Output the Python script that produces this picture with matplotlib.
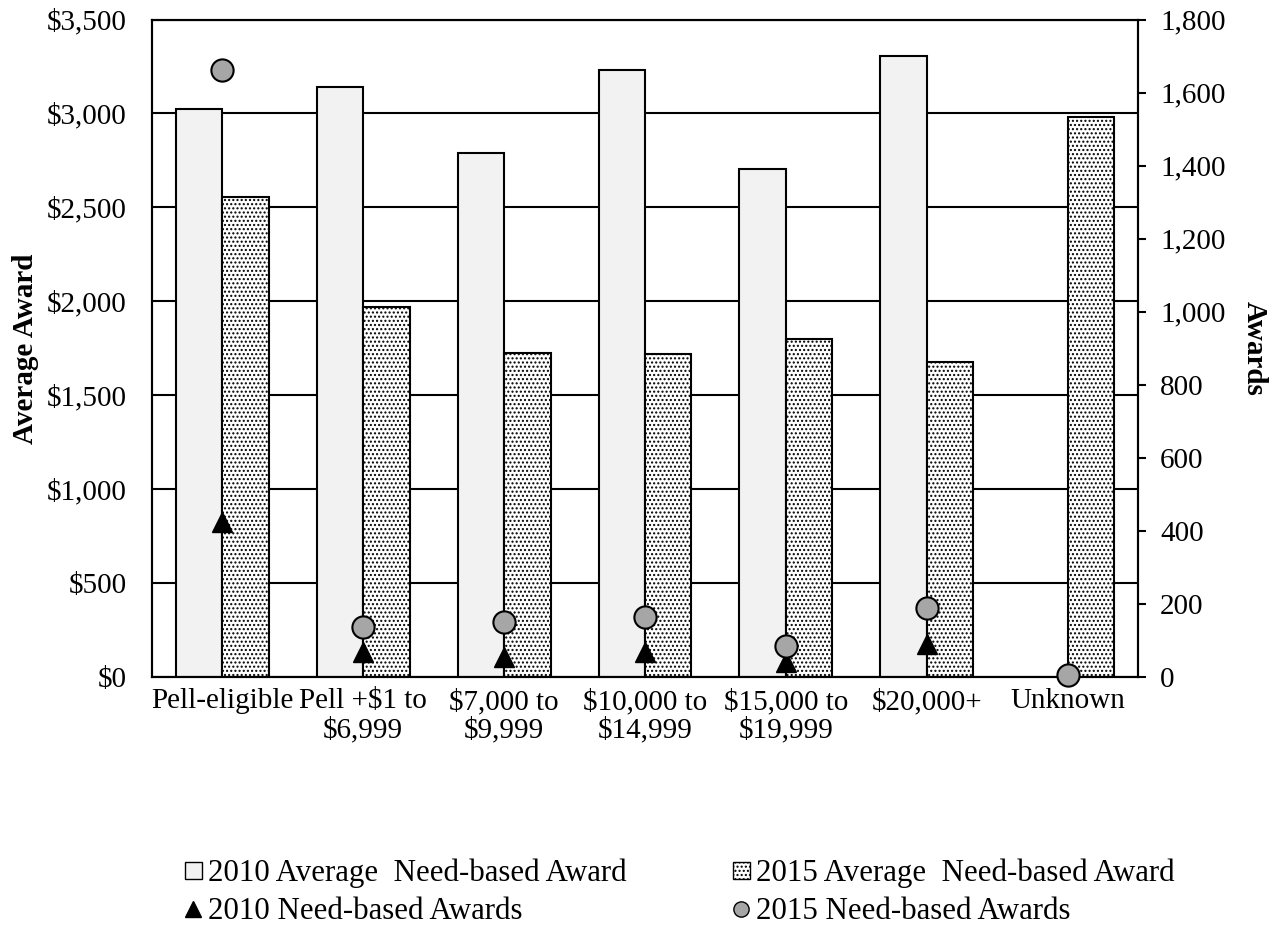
import numpy as np
import matplotlib
matplotlib.use("Agg")
import matplotlib.pyplot as plt
from matplotlib.patches import Patch
from matplotlib.lines import Line2D
from matplotlib.ticker import FuncFormatter, MultipleLocator

plt.rcParams['font.family'] = ['Liberation Serif', 'DejaVu Serif']
plt.rcParams['hatch.linewidth'] = 1.0

categories = ["Pell-eligible", "Pell +\\$1 to\n\\$6,999", "\\$7,000 to\n\\$9,999",
              "\\$10,000 to\n\\$14,999", "\\$15,000 to\n\\$19,999", "\\$20,000+", "Unknown"]
avg_2010 = [3025, 3140, 2790, 3232, 2707, 3305, np.nan]
avg_2015 = [2556, 1970, 1725, 1720, 1800, 1680, 2982]
awards_2010 = [426, 68, 55, 68, 41, 91, np.nan]
awards_2015 = [1662, 138, 150, 166, 86, 190, 5]

FS = 21
x = np.arange(len(categories))
w = 0.33

fig = plt.figure(figsize=(12.75, 9.35), dpi=100)
ax = fig.add_axes([152/1275, 1-677.3/935, (1138-152)/1275, (677.3-19.5)/935])

ax.bar(x - w/2, avg_2010, w, color='#f2f2f2', edgecolor='black', linewidth=1.5, zorder=2)
ax.bar(x + w/2, avg_2015, w, color='white', edgecolor='black', linewidth=1.5,
       hatch='....', zorder=2)

ax.set_ylim(0, 3500)
ax.set_xlim(-0.5, len(categories) - 0.5)
ax.yaxis.set_major_locator(MultipleLocator(500))
ax.yaxis.set_major_formatter(FuncFormatter(lambda v, p: "\\$" + format(int(v), ",")))
ax.grid(axis='y', color='black', linewidth=1.5)
ax.set_axisbelow(True)
ax.set_xticks(x)
ax.set_xticklabels(categories, fontsize=FS, linespacing=1.1)
ax.tick_params(axis='x', length=0, pad=8)
ax.tick_params(axis='y', length=0, pad=18, labelsize=FS)
ax.set_ylabel("Average Award", fontsize=FS, fontweight='bold', labelpad=6)
for s in ax.spines.values():
    s.set_linewidth(1.5)

ax2 = ax.twinx()
ax2.plot(x, awards_2010, linestyle='none', marker='^', markersize=15,
         color='black', clip_on=False, zorder=3)
ax2.plot(x, awards_2015, linestyle='none', marker='o', markersize=16,
         markerfacecolor='#a6a6a6', markeredgecolor='black', markeredgewidth=1.5,
         clip_on=False, zorder=4)
ax2.set_ylim(0, 1800)
ax2.yaxis.set_major_locator(MultipleLocator(200))
ax2.yaxis.set_major_formatter(FuncFormatter(lambda v, p: format(int(v), ",")))
ax2.tick_params(axis='y', length=6, width=1.5, pad=10, labelsize=FS)
ax2.set_ylabel("Awards", fontsize=FS, fontweight='bold', rotation=270, labelpad=30)
for s in ax2.spines.values():
    s.set_linewidth(1.5)

handles = [
    Patch(facecolor='#f2f2f2', edgecolor='black', linewidth=1),
    Patch(facecolor='white', edgecolor='black', linewidth=1, hatch='....'),
    Line2D([], [], linestyle='none', marker='^', markersize=11, color='black'),
    Line2D([], [], linestyle='none', marker='o', markersize=11,
           markerfacecolor='#a6a6a6', markeredgecolor='black'),
]
labels = ["2010 Average  Need-based Award", "2015 Average  Need-based Award",
          "2010 Need-based Awards", "2015 Need-based Awards"]
# column 1 holds the 2010 items
order = [0, 2, 1, 3]
fig.legend([handles[i] for i in order], [labels[i] for i in order],
           loc='upper left', bbox_to_anchor=(157/1275, 1-831/935), ncol=2,
           frameon=False, fontsize=22.2, handlelength=0.55, handleheight=0.5,
           handletextpad=0.2, columnspacing=3.45, labelspacing=0.28)

fig.savefig("out.png", dpi=100)
